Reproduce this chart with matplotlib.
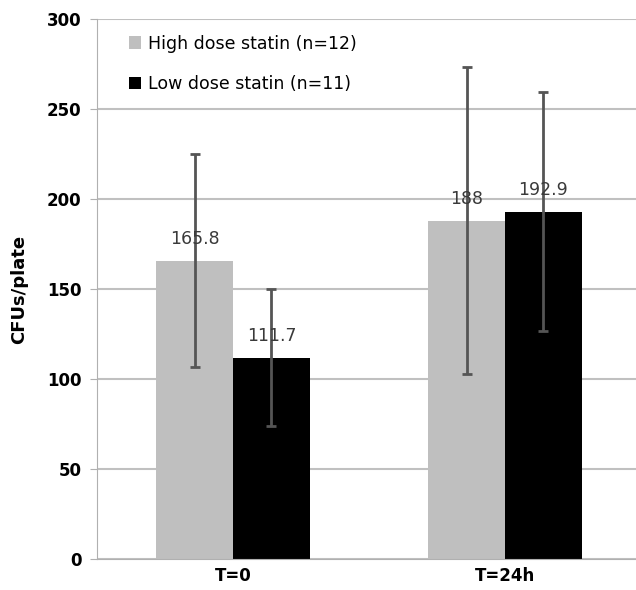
import matplotlib.pyplot as plt
import numpy as np

# data
groups = ["T=0", "T=24h"]
series = ["High dose statin (n=12)", "Low dose statin (n=11)"]
high_dose = [165.8, 188]
low_dose = [111.7, 192.9]
high_err = [59, 85.3]
low_err = [38, 66.5]
value_labels_high = ["165.8", "188"]
value_labels_low = ["111.7", "192.9"]
yticks = [0, 50, 100, 150, 200, 250, 300]

fig = plt.figure(figsize=(6.36, 5.9), dpi=100)
ax = fig.add_axes([0.1525, 0.0525, 0.8475, 0.9155])

x = np.arange(len(groups))
w = 0.283

ax.bar(x - w / 2, high_dose, w, color="#bfbfbf", label=series[0], zorder=2)
ax.bar(x + w / 2, low_dose, w, color="#000000", label=series[1], zorder=2)

# error bars
ax.errorbar(x - w / 2, high_dose, yerr=high_err, fmt="none", ecolor="#555555",
            elinewidth=2, capsize=3.5, capthick=2, zorder=3)
ax.errorbar(x + w / 2, low_dose, yerr=low_err, fmt="none", ecolor="#555555",
            elinewidth=2, capsize=3.5, capthick=2, zorder=3)

# value labels above the bars
for i in range(len(groups)):
    ax.text(x[i] - w / 2, high_dose[i] + 12, value_labels_high[i], ha="center",
            va="center", fontsize=12.5, color="#3a3a3a", zorder=4)
    ax.text(x[i] + w / 2, low_dose[i] + 12, value_labels_low[i], ha="center",
            va="center", fontsize=12.5, color="#3a3a3a", zorder=4)

ax.set_ylim(0, 300)
ax.set_xlim(-0.5, 1.4816)
ax.set_yticks(yticks)
ax.set_xticks(x)
ax.set_xticklabels(groups, fontsize=12, fontweight="bold")
for lbl in ax.get_yticklabels():
    lbl.set_fontweight("bold")
    lbl.set_fontsize(12)

ax.yaxis.grid(True, color="#c0c0c0", linewidth=1.5, zorder=0)
ax.set_axisbelow(True)
ax.spines["top"].set_visible(False)
ax.spines["right"].set_visible(False)
ax.spines["left"].set_color("#b0b0b0")
ax.spines["bottom"].set_color("#b0b0b0")
ax.tick_params(axis="y", length=5, color="#b0b0b0", pad=6)
ax.tick_params(axis="x", length=0, pad=6)

ax.set_ylabel("CFUs/plate", fontsize=13, fontweight="bold", labelpad=14)

ax.legend(loc="upper left", frameon=False, fontsize=12.5, handlelength=0.7,
          handleheight=0.7, handletextpad=0.4, labelspacing=1.3,
          bbox_to_anchor=(0.03, 1.0))

fig.savefig("out.png", dpi=100)
